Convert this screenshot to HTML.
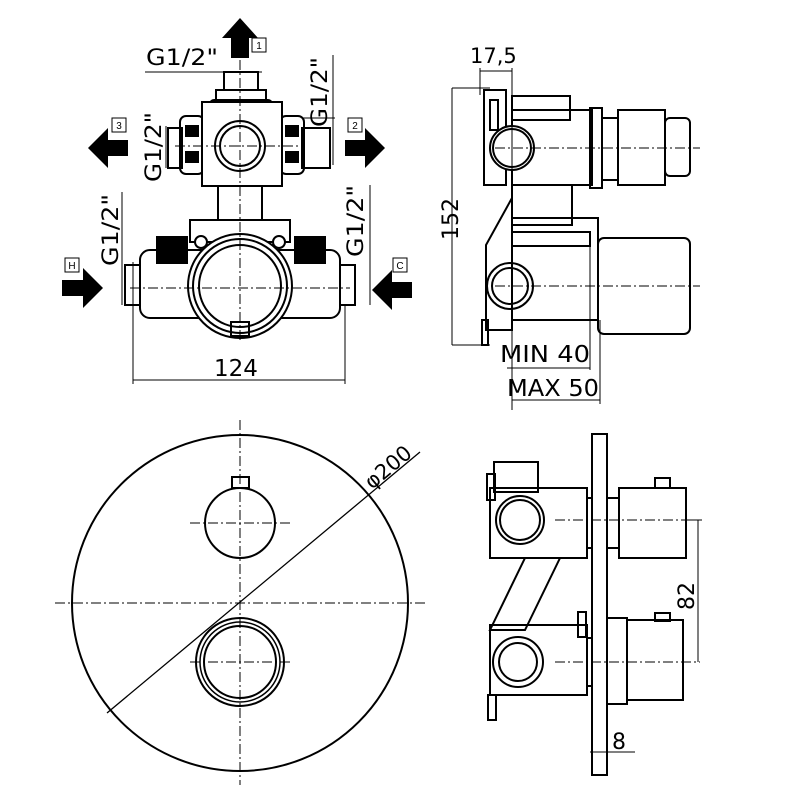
<!DOCTYPE html>
<html><head><style>html,body{margin:0;padding:0;background:#fff}svg{display:block}</style></head>
<body>
<svg width="800" height="800" viewBox="0 0 800 800" xmlns="http://www.w3.org/2000/svg" font-family="'DejaVu Sans','Liberation Sans',sans-serif">
<g fill="none" stroke="#000" stroke-width="2">
<polygon points="240,18 258,38 249,38 249,58 231,58 231,38 222,38" fill="#000" stroke="none"/>
<rect x="252" y="38" width="14" height="14" stroke-width="1"/>
<rect x="224" y="72" width="34" height="18"/>
<rect x="216" y="90" width="50" height="12"/>
<rect x="210" y="100" width="62" height="10" rx="4"/>
<rect x="180" y="116" width="24" height="58" rx="6"/>
<rect x="280" y="116" width="24" height="58" rx="6"/>
<rect x="168" y="128" width="14" height="40"/>
<rect x="302" y="128" width="28" height="40"/>
<rect x="186" y="126" width="12" height="10" fill="#000"/>
<rect x="186" y="152" width="12" height="10" fill="#000"/>
<rect x="286" y="126" width="12" height="10" fill="#000"/>
<rect x="286" y="152" width="12" height="10" fill="#000"/>
<rect x="202" y="102" width="80" height="84" fill="#fff"/>
<circle cx="240" cy="146" r="25"/>
<circle cx="240" cy="146" r="20"/>
<rect x="218" y="186" width="44" height="34"/>
<rect x="190" y="220" width="100" height="22"/>
<rect x="140" y="250" width="200" height="68" rx="10"/>
<rect x="125" y="265" width="15" height="40"/>
<rect x="340" y="265" width="15" height="40"/>
<rect x="157" y="237" width="30" height="26" fill="#000"/>
<rect x="295" y="237" width="30" height="26" fill="#000"/>
<circle cx="240" cy="286" r="52" fill="#fff"/>
<circle cx="240" cy="286" r="47"/>
<circle cx="240" cy="286" r="41"/>
<circle cx="201" cy="242" r="6" fill="#fff"/>
<circle cx="279" cy="242" r="6" fill="#fff"/>
<rect x="231" y="322" width="18" height="14"/>
<g stroke-width="1" stroke-dasharray="10,3,2,3">
<line x1="240" y1="60" x2="240" y2="340"/>
<line x1="175" y1="146" x2="305" y2="146"/>
<line x1="130" y1="288" x2="350" y2="288"/>
</g>
<polygon points="88,148 108,128 108,140 128,140 128,156 108,156 108,168" fill="#000" stroke="none"/>
<rect x="112" y="118" width="14" height="14" stroke-width="1"/>
<polygon points="385,148 365,128 365,140 345,140 345,156 365,156 365,168" fill="#000" stroke="none"/>
<rect x="348" y="118" width="14" height="14" stroke-width="1"/>
<polygon points="103,288 83,268 83,280 62,280 62,296 83,296 83,308" fill="#000" stroke="none"/>
<rect x="65" y="258" width="14" height="14" stroke-width="1"/>
<polygon points="372,290 392,270 392,282 412,282 412,298 392,298 392,310" fill="#000" stroke="none"/>
<rect x="393" y="258" width="14" height="14" stroke-width="1"/>
<g stroke-width="1">
<line x1="145" y1="72" x2="262" y2="72"/>
<line x1="333" y1="55" x2="333" y2="165"/>
<line x1="302" y1="118" x2="335" y2="118"/>
<line x1="166" y1="126" x2="166" y2="168"/>
<line x1="122" y1="192" x2="122" y2="305"/>
<line x1="370" y1="185" x2="370" y2="305"/>
<line x1="133" y1="262" x2="133" y2="384"/>
<line x1="345" y1="305" x2="345" y2="384"/>
<line x1="133" y1="380" x2="345" y2="380"/>
</g>

<rect x="484" y="90" width="22" height="95"/>
<rect x="490" y="100" width="8" height="30"/>
<rect x="512" y="96" width="58" height="24"/>
<rect x="512" y="110" width="80" height="75"/>
<rect x="590" y="108" width="12" height="80"/>
<rect x="602" y="118" width="16" height="62"/>
<rect x="618" y="110" width="47" height="75"/>
<rect x="665" y="118" width="25" height="58" rx="5"/>
<circle cx="512" cy="148" r="22" fill="#fff"/>
<circle cx="512" cy="148" r="19"/>
<rect x="512" y="185" width="60" height="40"/>
<polygon points="512,198 486,245 486,330 512,330"/>
<rect x="512" y="218" width="86" height="102"/>
<rect x="512" y="232" width="78" height="14"/>
<rect x="598" y="238" width="92" height="96" rx="6"/>
<circle cx="510" cy="286" r="23"/>
<circle cx="510" cy="286" r="18"/>
<rect x="482" y="320" width="6" height="25"/>
<g stroke-width="1">
<line x1="512" y1="68" x2="512" y2="410"/>
<line x1="480" y1="68" x2="480" y2="95"/>
<line x1="480" y1="71" x2="512" y2="71"/>
<line x1="452" y1="88" x2="490" y2="88"/>
<line x1="452" y1="345" x2="490" y2="345"/>
<line x1="452" y1="88" x2="452" y2="345"/>
<line x1="590" y1="240" x2="590" y2="370"/>
<line x1="600" y1="320" x2="600" y2="404"/>
<line x1="507" y1="368" x2="590" y2="368"/>
<line x1="512" y1="400" x2="600" y2="400"/>
</g>
<g stroke-width="1" stroke-dasharray="10,3,2,3">
<line x1="495" y1="148" x2="700" y2="148"/>
<line x1="495" y1="286" x2="700" y2="286"/>
</g>

<circle cx="240" cy="603" r="168"/>
<circle cx="240" cy="523" r="35"/>
<rect x="232" y="477" width="17" height="11"/>
<circle cx="240" cy="662" r="44"/>
<circle cx="240" cy="662" r="40" stroke-width="1.5"/>
<circle cx="240" cy="662" r="36"/>
<g stroke-width="1" stroke-dasharray="10,3,2,3">
<line x1="240" y1="420" x2="240" y2="785"/>
<line x1="55" y1="603" x2="425" y2="603"/>
<line x1="190" y1="523" x2="290" y2="523"/>
<line x1="190" y1="662" x2="290" y2="662"/>
</g>
<line x1="107" y1="713" x2="420" y2="452" stroke-width="1.3"/>

<rect x="592" y="434" width="15" height="341"/>
<rect x="494" y="462" width="44" height="30"/>
<rect x="487" y="474" width="8" height="26"/>
<rect x="490" y="488" width="97" height="70"/>
<rect x="587" y="498" width="5" height="50"/>
<rect x="607" y="498" width="12" height="50"/>
<rect x="619" y="488" width="67" height="70"/>
<rect x="655" y="478" width="15" height="10"/>
<circle cx="520" cy="520" r="24" fill="#fff"/>
<circle cx="520" cy="520" r="20"/>
<polygon points="525,558 560,558 525,630 490,630"/>
<rect x="490" y="625" width="97" height="70"/>
<rect x="578" y="612" width="8" height="25"/>
<rect x="587" y="638" width="5" height="48"/>
<rect x="607" y="618" width="20" height="86"/>
<rect x="627" y="620" width="56" height="80"/>
<rect x="655" y="613" width="15" height="8"/>
<circle cx="518" cy="662" r="25"/>
<circle cx="518" cy="662" r="19"/>
<rect x="488" y="695" width="8" height="25"/>
<g stroke-width="1" stroke-dasharray="10,3,2,3">
<line x1="555" y1="520" x2="690" y2="520"/>
<line x1="555" y1="662" x2="700" y2="662"/>
</g>
<g stroke-width="1">
<line x1="686" y1="520" x2="702" y2="520"/>
<line x1="698" y1="520" x2="698" y2="662"/>
<line x1="590" y1="752" x2="635" y2="752"/>
</g>
</g>

<g fill="#000" font-size="22">
<text x="146" y="65" textLength="72" lengthAdjust="spacingAndGlyphs">G1/2"</text>
<text transform="translate(327,127) rotate(-90)" textLength="70" lengthAdjust="spacingAndGlyphs">G1/2"</text>
<text transform="translate(161,182) rotate(-90)" textLength="70" lengthAdjust="spacingAndGlyphs">G1/2"</text>
<text transform="translate(118,266) rotate(-90)" textLength="72" lengthAdjust="spacingAndGlyphs">G1/2"</text>
<text transform="translate(363,257) rotate(-90)" textLength="72" lengthAdjust="spacingAndGlyphs">G1/2"</text>
<text x="214" y="376" font-size="23">124</text>
<text x="470" y="63" font-size="21">17,5</text>
<text transform="translate(458,240) rotate(-90)" font-size="22">152</text>
<text x="500" y="362" font-size="23" textLength="90" lengthAdjust="spacingAndGlyphs">MIN 40</text>
<text x="507" y="396" font-size="23" textLength="92" lengthAdjust="spacingAndGlyphs">MAX 50</text>
<text transform="translate(372,490) rotate(-40)" font-size="21">φ200</text>
<text transform="translate(694,610) rotate(-90)" font-size="22">82</text>
<text x="612" y="749" font-size="22">8</text>
</g>
<g fill="#000" font-size="10" text-anchor="middle" font-family="'Liberation Sans',sans-serif">
<text x="259" y="49">1</text><text x="119" y="129">3</text><text x="355" y="129">2</text>
<text x="72" y="269">H</text><text x="400" y="269">C</text>
</g>
</svg>
</body></html>
